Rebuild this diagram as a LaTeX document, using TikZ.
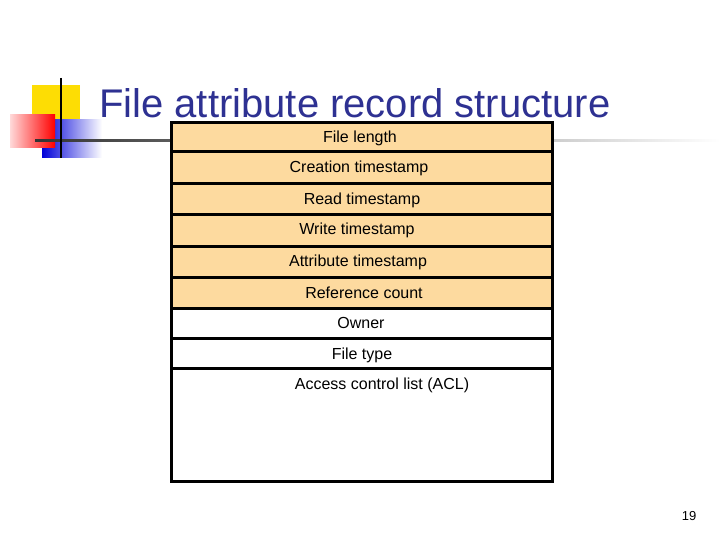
\documentclass[tikz,border=0pt]{standalone}
\usepackage{fontspec}
\setmainfont{Liberation Sans}
\begin{document}
\begin{tikzpicture}[x=1pt,y=-1pt,
  row/.style={draw=black,line width=3pt,fill=peach,inner sep=0pt,anchor=north west,minimum width=381pt},
  wrow/.style={row,fill=white},
  lbl/.style={font=\fontsize{16}{18}\selectfont,inner sep=0pt}]
\definecolor{peach}{HTML}{FDDA9F}
\definecolor{titleblue}{HTML}{2E3192}
\useasboundingbox (0,0) rectangle (720,540);
\fill[white] (0,0) rectangle (720,540);
% logo
\fill[yellow!80!orange] (32,85) rectangle (80,130);
\shade[left color=blue!85!black,right color=white] (42,120) rectangle (102,158);
\shade[left color=red!15,right color=red] (10,115) rectangle (55,148);
\shade[left color=black!80,right color=white] (35,139.5) rectangle (720,142);
\draw[line width=2.5pt] (61,78) -- (61,158);
\node[anchor=base west,text=titleblue,font=\fontsize{40}{44}\selectfont,inner sep=0pt] (title) at (99,118) {File attribute record structure};
% rows
\node[row,minimum height=29pt] (r1) at (170,121) {};
\node[row,minimum height=32pt] (r2) at (170,150) {};
\node[row,minimum height=31pt] (r3) at (170,182) {};
\node[row,minimum height=32pt] (r4) at (170,213) {};
\node[row,minimum height=31pt] (r5) at (170,245) {};
\node[row,minimum height=31pt] (r6) at (170,276) {};
\node[wrow,minimum height=30pt] (r7) at (170,307) {};
\node[wrow,minimum height=30pt] (r8) at (170,337) {};
\node[wrow,minimum height=113pt] (r9) at (170,367) {};
\node[lbl] (t1) at (360,138) {File length};
\node[lbl] (t2) at (359,168) {Creation timestamp};
\node[lbl] (t3) at (362,200) {Read timestamp};
\node[lbl] (t4) at (357,230) {Write timestamp};
\node[lbl] (t5) at (358,262) {Attribute timestamp};
\node[lbl] (t6) at (364,293) {Reference count};
\node[lbl] (t7) at (361,323) {Owner};
\node[lbl] (t8) at (362,355) {File type};
\node[lbl] (t9) at (382,385) {Access control list (ACL)};
\node[font=\fontsize{13}{15}\selectfont,inner sep=0pt] (pg) at (689,516) {19};
\end{tikzpicture}
\end{document}
